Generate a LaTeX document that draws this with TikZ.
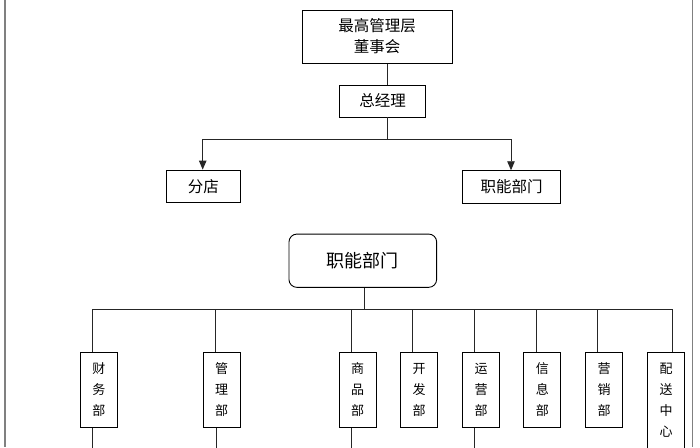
\documentclass[tikz,border=0pt]{standalone}
\usepackage{fontspec}
\newfontfamily\cjk{Noto Sans CJK SC}
\usetikzlibrary{arrows.meta,calc}
\begin{document}
\begin{tikzpicture}[x=1pt,y=-1pt,
  line width=0.9pt,
  every node/.style={font=\cjk, inner sep=0pt, draw, line width=0.9pt},
  topbox/.style={minimum width=#1, font=\cjk\fontsize{15.5}{21}\selectfont, align=center},
  vbox/.style={minimum width=37pt, minimum height=75.3pt, align=center, font=\cjk\fontsize{13}{21}\selectfont},
  conn/.style={draw=black!85, line width=0.9pt},
  arr/.style={conn, -{Triangle[length=9pt,width=7.5pt]}},
  edge/.style={draw=black!50, line width=1.4pt}
]
\useasboundingbox (0,0) rectangle (700,447);
\clip (0,0) rectangle (700,447);
\draw[edge] (5,0) -- (5,447);
\draw[edge] (692.7,0) -- (692.7,447);

% upper chart
\node[topbox=150pt, minimum height=53pt] (top) at (377,36.6) {最高管理层\\董事会};
\node[topbox=86.5pt, minimum height=32pt] (gm) at (382.5,101) {总经理};
\node[topbox=74.7pt, minimum height=32.3pt] (fd) at (203.3,186.2) {分店};
\node[topbox=98pt, minimum height=32.6pt] (zn) at (511.7,187) {职能部门};
\coordinate (j1) at (387.7,139.3);
\draw[conn] ([xshift=10.7pt]top.south) -- ([xshift=5.2pt]gm.north);
\draw[conn] ([xshift=5.2pt]gm.south) -- (j1);
\draw[arr] (j1) -| ([xshift=-0.6pt]fd.north);
\draw[arr] (j1) -| ([xshift=-0.7pt]zn.north);

% lower chart
\node[rounded corners=8pt, minimum width=147.7pt, minimum height=53.3pt, font=\cjk\fontsize{18}{21}\selectfont] (root) at (362.8,260.7) {职能部门};
\coordinate (bus) at (364.3,309.3);
\draw[conn] ([xshift=1.5pt]root.south) -- (bus);

\node[vbox] (cw) at (98.8,389.7) {财\\务\\部};
\node[vbox] (gl) at (221.7,389.7) {管\\理\\部};
\node[vbox] (sp) at (357.7,389.7) {商\\品\\部};
\node[vbox] (kf) at (419.2,389.7) {开\\发\\部};
\node[vbox] (yy) at (481,389.7) {运\\营\\部};
\node[vbox] (xx) at (542.3,389.7) {信\\息\\部};
\node[vbox] (yx) at (604,389.7) {营\\销\\部};
\node[vbox, minimum height=96pt] (ps) at (666,400) {配\\送\\中\\心};

\draw[conn] ([xshift=-6.1pt]cw.north) |- (bus) -| ([xshift=6.3pt]ps.north);
\foreach \n in {gl,sp,kf,yy,xx,yx}{
  \draw[conn] ([xshift=-6.3pt]\n.north) -- ([xshift=-6.3pt]\n.north |- bus);
}
\coordinate (b1) at (92.7,447);
\draw[conn] ([xshift=-6.1pt]cw.south) -- ++(0,25);
\draw[conn] ([xshift=-5.7pt]gl.south) -- ++(0,25);
\draw[conn] ([xshift=-6.7pt]sp.south) -- ++(0,25);
\draw[conn] ([xshift=-6.7pt]yy.south) -- ++(0,25);
\end{tikzpicture}
\end{document}
